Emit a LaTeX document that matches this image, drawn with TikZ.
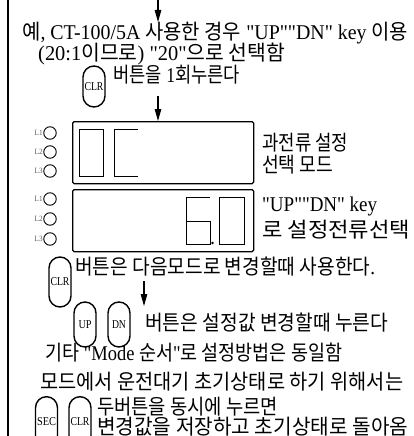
\documentclass[tikz,border=0pt]{standalone}
\usepackage{fontspec}
\usepackage{graphicx}
\newfontfamily\lat{Liberation Serif}
\newfontfamily\kr{Noto Sans CJK KR}
\newcommand\fitw[2]{\resizebox{#1pt}{\height}{#2}}
\usetikzlibrary{arrows.meta}
\begin{document}
\begin{tikzpicture}[x=1pt,y=-1pt,
  txt/.style={anchor=base west, inner sep=0pt, font=\lat\fontsize{21}{21}\selectfont},
  btn/.style={draw, line width=1.4pt, rounded corners=11pt, minimum width=22pt, inner sep=0pt, font=\lat\fontsize{12}{12}\selectfont},
  disp/.style={draw, line width=1.3pt, rounded corners=1.5pt, minimum width=181pt, minimum height=62pt, anchor=north west},
  seg/.style={line width=0.9pt},
  led/.style={draw, circle, line width=0.9pt, minimum size=12.5pt, inner sep=0pt},
  ledlab/.style={anchor=east, inner sep=0.5pt, font=\lat\fontsize{8}{8}\selectfont, text=black!65},
  arr/.style={line width=1.1pt, -{Triangle[length=12pt,width=6.5pt]}}]
\useasboundingbox (0,0) rectangle (414,436);
\fill[white] (0,0) rectangle (414,436);
% left border
\coordinate (bt) at (8,0);
\coordinate (bb) at (8,436);
\draw[line width=1.4pt] (bt) -- (bb);

% text lines
\node[txt] (l1) at (22,40) {\fitw{386}{{\kr 예}, CT-100/5A {\kr 사용한 경우} "UP""DN" key {\kr 이용}}};
\node[txt] (l2) at (38,61) {\fitw{247}{(20:1{\kr 이므로}) "20"{\kr 으로 선택함}}};
\node[btn, minimum height=41pt] (clr1) at (94,86.5) {\fitw{19}{CLR}};
\node[txt] (l3) at (113,82) {\fitw{127}{{\kr 버튼을} 1{\kr 회누른다}}};

% arrows
\coordinate (a1s) at (158,0);
\coordinate (a1e) at (158,22);
\draw[arr] (a1s) -- (a1e);

% display 1
\node[disp] (box1) at (72,121) {};
\coordinate (a2s) at (158,96);
\draw[arr] (a2s) -- (box1.north -| a2s);
\draw[seg] (79,129) rectangle (103,176);
\draw[seg] (138,129) -- (114,129) -- (114,176) -- (138,176);
\node[led] (d1l1) at (50,133) {};
\node[led] (d1l2) at (50,152) {};
\node[led] (d1l3) at (50,171) {};
\node[ledlab] at (d1l1.west) {\fitw{8}{L1}};
\node[ledlab] at (d1l2.west) {\fitw{8}{L2}};
\node[ledlab] at (d1l3.west) {\fitw{8}{L3}};
\node[txt] (t1a) at (262,150) {\fitw{86}{\kr 과전류 설정}};
\node[txt] (t1b) at (262,172) {\fitw{71}{\kr 선택 모드}};

% display 2
\node[disp] (box2) at (72,189) {};
\draw[seg] (210,197) -- (186,197) -- (186,244) -- (210,244) -- (210,221) -- (186,221);
\fill (212.5,243) circle (1.4pt);
\draw[seg] (219,197) rectangle (244,244);
\node[led] (d2l1) at (50,199) {};
\node[led] (d2l2) at (50,219) {};
\node[led] (d2l3) at (50,239) {};
\node[ledlab] at (d2l1.west) {\fitw{8}{L1}};
\node[ledlab] at (d2l2.west) {\fitw{8}{L2}};
\node[ledlab] at (d2l3.west) {\fitw{8}{L3}};
\node[txt] (t2a) at (262,211) {\fitw{115}{"UP""DN" key}};
\node[txt] (t2b) at (262,237) {\fitw{148}{\kr 로 설정전류선택}};

% CLR next mode
\node[btn, minimum height=50pt] (clr2) at (60,282) {\fitw{19}{CLR}};
\node[txt] (l4) at (75,274) {\fitw{300}{{\kr 버튼은 다음모드로 변경할때 사용한다}.}};
\coordinate (a3s) at (144,281);
\coordinate (a3e) at (144,306);
\draw[arr] (a3s) -- (a3e);

\node[btn, minimum height=45pt] (up) at (85,324.5) {\fitw{13}{UP}};
\node[btn, minimum height=45pt] (dn) at (119,324.5) {\fitw{14}{DN}};
\node[txt] (l5) at (145,330) {\fitw{243}{\kr 버튼은 설정값 변경할때 누른다}};
\node[txt] (l6) at (45,360) {\fitw{297}{{\kr 기타} "Mode {\kr 순서}"{\kr 로 설정방법은 동일함}}};
\node[txt] (l7) at (40,389) {\fitw{363}{\kr 모드에서 운전대기 초기상태로 하기 위해서는}};

\node[btn, minimum height=50pt, anchor=north] (sec) at (46.5,396) {\fitw{19}{SEC}};
\node[btn, minimum height=50pt, anchor=north] (clr3) at (80,396) {\fitw{19}{CLR}};
\node[txt] (l8) at (97,414) {\fitw{181}{\kr 두버튼을 동시에 누르면}};
\node[txt] (l9) at (97,434) {\fitw{311}{\kr 변경값을 저장하고 초기상태로 돌아옴}};
\end{tikzpicture}
\end{document}
